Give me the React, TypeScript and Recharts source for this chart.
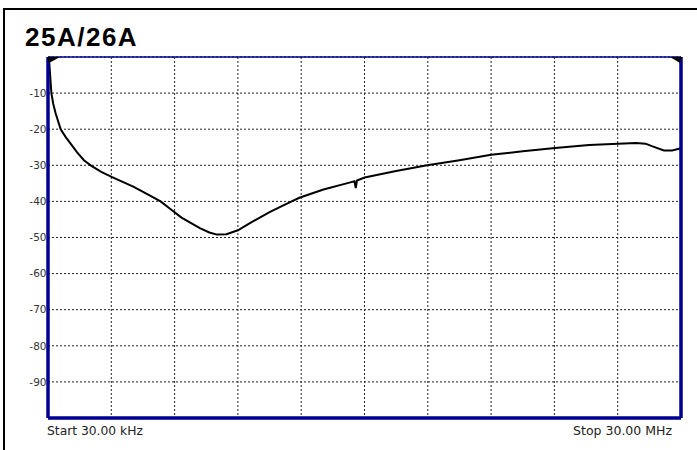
import React from "react";
import {
  LineChart,
  Line,
  XAxis,
  YAxis,
  CartesianGrid,
  ReferenceLine,
  ReferenceDot,
} from "recharts";

// Frequency in MHz (linear sweep 30 kHz .. 30 MHz)
const freqMHz = [
  0.03, 0.08, 0.19, 0.28, 0.39, 0.63, 0.87, 1.1, 1.41, 1.73, 2.05, 2.55, 3.04,
  4.09, 4.73, 5.36, 5.87, 6.35, 7.22, 7.67, 8.03, 8.48, 9.02, 9.59, 10.52,
  11.27, 11.93, 13.07, 14.3, 14.54, 14.6, 14.66, 15.02, 16.51, 17.98, 19.51,
  21.01, 22.51, 24.04, 25.65, 27.03, 27.87, 28.32, 28.62, 29.19, 29.58, 30.0,
];
// Trace level in dB
const levelDb = [
  -1, -0.7, -10, -13, -15.6, -20, -22.2, -24, -26.4, -28.6, -30, -31.8, -33.2,
  -36, -38, -40, -42.3, -44.5, -47.4, -48.6, -49.2, -49.1, -48, -46, -43, -40.8,
  -39, -36.7, -34.8, -34.4, -36.3, -34.2, -33.4, -31.6, -30, -28.6, -27.1,
  -26.1, -25.2, -24.4, -24, -23.8, -24, -24.7, -25.9, -25.9, -25.3,
];
const xGridTicks = [0.03, 3.027, 6.024, 9.021, 12.018, 15.015, 18.012, 21.009, 24.006, 27.003, 30.0];
const yTicks = [-90, -80, -70, -60, -50, -40, -30, -20, -10];
const yGridTicks = [-100, -90, -80, -70, -60, -50, -40, -30, -20, -10, 0];
const title = "25A/26A";
const startLabel = "Start 30.00 kHz";
const stopLabel = "Stop 30.00 MHz";

const data = freqMHz.map((f, i) => ({ f, db: levelDb[i] }));

const NAVY = "#000090";

const TriLeft = (props: any) => {
  const { cx, cy } = props;
  return (
    <polygon
      points={`${cx - 1},${cy} ${cx + 12},${cy} ${cx + 1},${cy + 6}`}
      fill="#000"
    />
  );
};
const TriRight = (props: any) => {
  const { cx, cy } = props;
  return (
    <polygon
      points={`${cx + 1},${cy} ${cx - 11},${cy} ${cx - 1},${cy + 6}`}
      fill="#000"
    />
  );
};

export default function App() {
  return (
    <div
      style={{
        position: "absolute",
        left: 0,
        top: 0,
        width: 697,
        height: 450,
        background: "#fff",
        overflow: "hidden",
      }}
    >
      <LineChart
        width={697}
        height={450}
        data={data}
        margin={{ top: 57, right: 16, bottom: 32, left: 8 }}
      >
        <XAxis
          dataKey="f"
          type="number"
          domain={[0.03, 30]}
          ticks={xGridTicks}
          hide
        />
        <YAxis
          type="number"
          domain={[-100, 0]}
          ticks={yTicks}
          width={40}
          axisLine={false}
          tickLine={false}
          tickSize={0}
          tickMargin={1.5}
          interval={0}
          tick={{ fill: "#333", fontSize: 10.5, fontFamily: "DejaVu Sans" }}
        />
        <CartesianGrid
          stroke="#222"
          strokeDasharray="2 2"
          strokeWidth={1}
          verticalValues={xGridTicks}
          horizontalValues={yGridTicks}
        />
        <ReferenceLine y={0} stroke={NAVY} strokeWidth={1.5} />
        <Line
          type="linear"
          dataKey="db"
          stroke="#000"
          strokeWidth={2}
          dot={false}
          isAnimationActive={false}
        />
        <ReferenceLine y={-100} stroke={NAVY} strokeWidth={3.5} />
        <ReferenceLine x={0.03} stroke={NAVY} strokeWidth={3.5} />
        <ReferenceLine x={30} stroke={NAVY} strokeWidth={3.5} />
        <ReferenceDot x={0.03} y={0} shape={TriLeft} />
        <ReferenceDot x={30} y={0} shape={TriRight} />
      </LineChart>
      <svg
        width={697}
        height={450}
        style={{ position: "absolute", left: 0, top: 0, pointerEvents: "none" }}
      >
        <line x1={4} y1={9} x2={697} y2={9} stroke="#000" strokeWidth={2} />
        <line x1={4} y1={8} x2={4} y2={450} stroke="#000" strokeWidth={2} />
        <text
          x={25}
          y={45.7}
          fontFamily="Liberation Sans, Arial, sans-serif"
          fontWeight="bold"
          fontSize={26}
          letterSpacing={1.5}
          fill="#000"
        >
          {title}
        </text>
        <text
          x={47}
          y={435}
          fontFamily="DejaVu Sans"
          fontSize={12.3}
          fill="#222"
        >
          {startLabel}
        </text>
        <text
          x={672}
          y={435}
          textAnchor="end"
          fontFamily="DejaVu Sans"
          fontSize={12.5}
          fill="#222"
        >
          {stopLabel}
        </text>
      </svg>
    </div>
  );
}
